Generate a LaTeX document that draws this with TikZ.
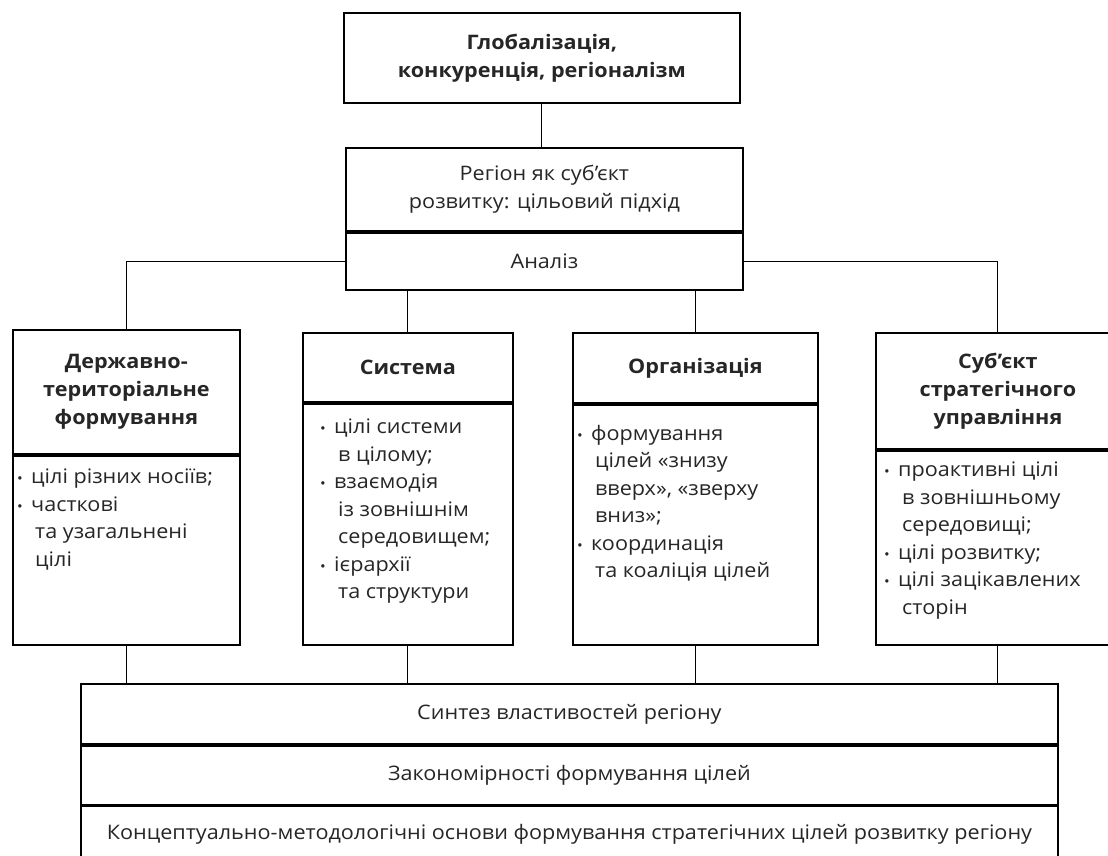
\documentclass[tikz,border=0pt]{standalone}
\usepackage{fontspec}
\setmainfont{Open Sans}[FakeStretch=1.08]
\usetikzlibrary{positioning}

\tikzset{
  box/.style={draw, line width=1.8pt, inner sep=0pt, align=center, text=black!85, font=\fontsize{20}{28}\selectfont},
  head/.style={box, font=\bfseries\fontsize{20}{28}\selectfont},
  items/.style={inner sep=0pt, align=left, anchor=north west, text=black!85, font=\fontsize{20}{27.5}\selectfont},
  link/.style={line width=1.1pt},
}
\newcommand{\bul}{\makebox[14pt][l]{\scalebox{0.7}{\textbullet}}}
\newcommand{\ind}{\hspace*{18pt}}

\begin{document}
\begin{tikzpicture}[x=1pt, y=-1pt]
\useasboundingbox (0,0) rectangle (1108,856);
\clip (0,0) rectangle (1108,856);

% top: global context and the region
\node[head, minimum width=396pt, minimum height=90pt, anchor=north west] (glob) at (343,12) {Глобалізація,\\конкуренція, регіоналізм};
\node[box, minimum width=397pt, minimum height=83pt, anchor=north west] (reg) at (345,147) {Регіон як суб’єкт\\розвитку: цільовий підхід};
\node[box, minimum width=397pt, minimum height=57pt, below=0pt of reg] (ana) {Аналіз};

% four views of the region
\node[head, minimum width=227pt, minimum height=124pt, anchor=north west] (t1) at (12,329) {Державно-\\територіальне\\формування};
\node[box, minimum width=227pt, minimum height=189pt, below=0pt of t1] (b1) {};
\node[head, minimum width=210pt, minimum height=69pt, anchor=north west] (t2) at (302,332) {Система};
\node[box, minimum width=210pt, minimum height=241pt, below=0pt of t2] (b2) {};
\node[head, minimum width=245pt, minimum height=70pt, anchor=north west] (t3) at (572,332) {Організація};
\node[box, minimum width=245pt, minimum height=240pt, below=0pt of t3] (b3) {};
\node[head, minimum width=244pt, minimum height=116pt, anchor=north west] (t4) at (875,332) {Суб’єкт\\стратегічного\\управління};
\node[box, minimum width=244pt, minimum height=194pt, below=0pt of t4] (b4) {};

\node[items] (l1) at (17,469) {\bul цілі різних носіїв;\\\bul часткові\\\ind та узагальнені\\\ind цілі};
\node[items] (l2) at (320,419) {\bul цілі системи\\\ind в цілому;\\\bul взаємодія\\\ind із зовнішнім\\\ind середовищем;\\\bul ієрархії\\\ind та структури};
\node[items] (l3) at (577,425) {\bul формування\\\ind цілей «знизу\\\ind вверх», «зверху\\\ind вниз»;\\\bul координація\\\ind та коаліція цілей};
\node[items] (l4) at (884,462) {\bul проактивні цілі\\\ind в зовнішньому\\\ind середовищі;\\\bul цілі розвитку;\\\bul цілі зацікавлених\\\ind сторін};

% synthesis at the bottom
\node[box, minimum width=977pt, minimum height=60pt, anchor=north west] (syn) at (80,683) {Синтез властивостей регіону};
\node[box, minimum width=977pt, minimum height=59pt, below=0pt of syn] (law) {Закономірності формування цілей};
\node[box, minimum width=977pt, minimum height=56pt, below=0pt of law] (base) {Концептуально-методологічні основи формування стратегічних цілей розвитку регіону};

% connectors
\draw[link] (glob.south) -- (glob.south |- reg.north);
\draw[link] (ana.west) -| (t1.north);
\draw[link] (ana.east) -| (t4.north);
\draw[link] (t2.north |- ana.south) -- (t2.north);
\draw[link] (t3.north |- ana.south) -- (t3.north);
\foreach \b in {b1,b2,b3,b4}
  \draw[link] (\b.south) -- (\b.south |- syn.north);
\end{tikzpicture}
\end{document}
